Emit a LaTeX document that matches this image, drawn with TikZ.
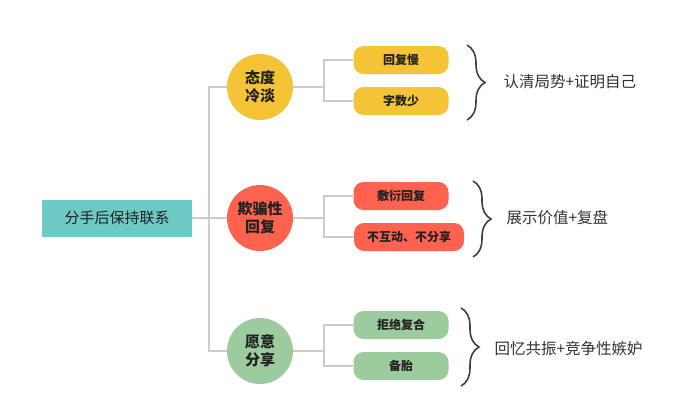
\documentclass[tikz,border=0pt]{standalone}
\usepackage{fontspec}
\setmainfont{Noto Sans CJK SC}
\usetikzlibrary{decorations.pathreplacing}
\definecolor{rootcol}{HTML}{6CC9C4}
\definecolor{yel}{HTML}{F5C436}
\definecolor{redc}{HTML}{FF6350}
\definecolor{grn}{HTML}{9CCB9E}
\definecolor{linec}{HTML}{CCCCCC}
\definecolor{txt}{HTML}{222222}

\begin{document}
\begin{tikzpicture}[x=1pt,y=-1pt]
  \tikzstyle{root}=[rectangle,fill=rootcol,minimum width=150pt,minimum height=37pt,
              font=\fontsize{15}{18}\selectfont,text=txt]
  \tikzstyle{topic}=[circle,minimum size=66pt,inner sep=0pt,align=center,
              font=\bfseries\fontsize{15}{18}\selectfont,text=txt]
  \tikzstyle{leaf}=[rectangle,rounded corners=10pt,minimum width=95pt,minimum height=28pt,
              inner sep=2pt,font=\bfseries\fontsize{12}{14}\selectfont,text=txt]
  \tikzstyle{link}=[draw=linec,line width=1.2pt]
  \tikzstyle{curly}=[draw=black!75,line width=1.6pt,decorate,decoration={brace,amplitude=18pt}]
  \tikzstyle{note}=[anchor=west,font=\fontsize{15.5}{18}\selectfont,text=black!80]
  \useasboundingbox (0,0) rectangle (700,413);

  % root and topics
  \node [root] (root) at (117,218) {分手后保持联系};
  \node [topic,fill=yel] (c1) at (260,87) {态度\\冷淡};
  \node [topic,fill=redc] (c2) at (260,218) {欺骗性\\回复};
  \node [topic,fill=grn] (c3) at (260,351) {愿意\\分享};

  % leaves
  \node [leaf,fill=yel] (s11) at (401,60) {回复慢};
  \node [leaf,fill=yel] (s12) at (401,101) {字数少};
  \node [leaf,fill=redc] (s21) at (401,196) {敷衍回复};
  \node [leaf,fill=redc,minimum width=110pt] (s22) at (409,237) {不互动、不分享};
  \node [leaf,fill=grn] (s31) at (401,325) {拒绝复合};
  \node [leaf,fill=grn] (s32) at (401,366) {备胎};

  % connectors
  \coordinate (trunk) at (209,218);
  \coordinate (k1) at (324,87);
  \coordinate (k2) at (324,218);
  \coordinate (k3) at (324,351);
  \draw [link] (root) -- (c2);
  \draw [link] (trunk) |- (c1);
  \draw [link] (trunk) |- (c3);
  \draw [link] (c1) -- (k1) |- (s11);
  \draw [link] (k1) |- (s12);
  \draw [link] (c2) -- (k2) |- (s21);
  \draw [link] (k2) |- (s22);
  \draw [link] (c3) -- (k3) |- (s31);
  \draw [link] (k3) |- (s32);

  % braces and notes
  \draw [curly] (467,45) -- (467,120);
  \node [note] (n1) at (500,82) {认清局势+证明自己};
  \draw [curly] (473,181) -- (473,257);
  \node [note] (n2) at (503,218) {展示价值+复盘};
  \draw [curly] (461,308) -- (461,386);
  \node [note] (n3) at (491,349) {回忆共振+竞争性嫉妒};
\end{tikzpicture}
\end{document}
